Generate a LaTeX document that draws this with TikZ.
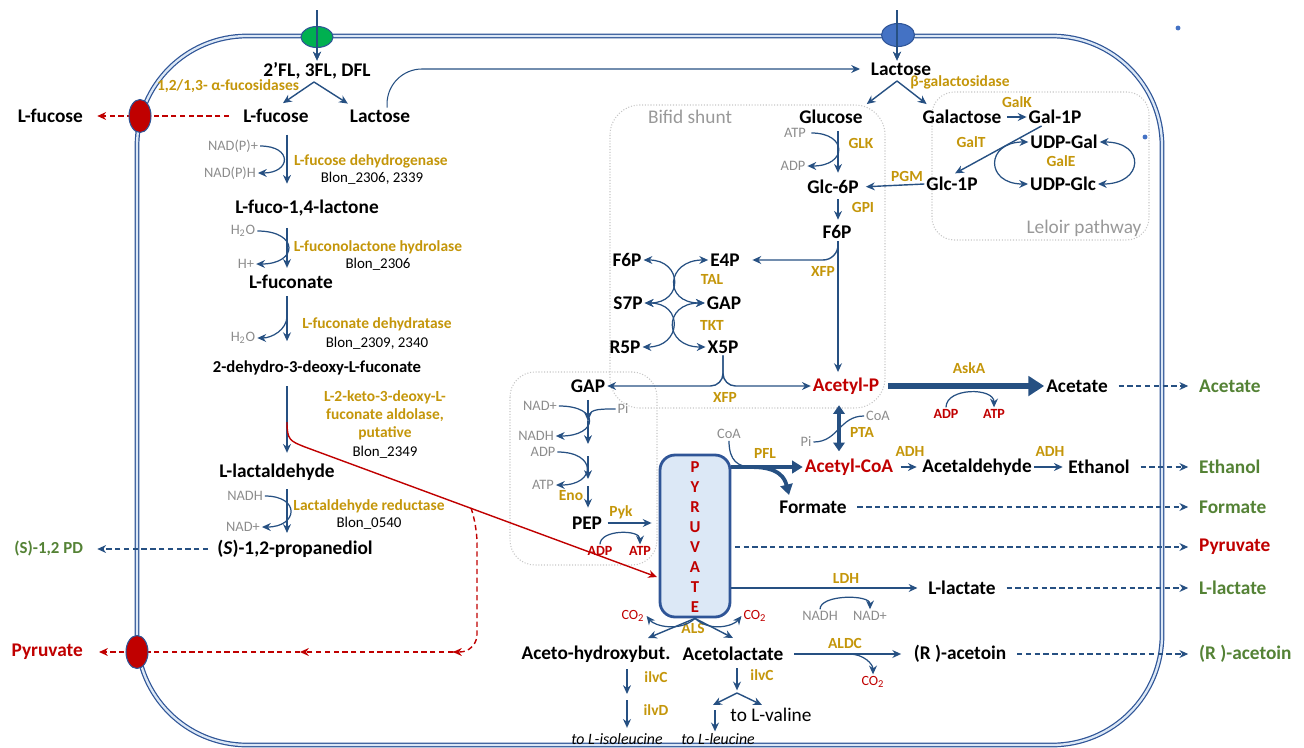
\documentclass[tikz,border=0pt]{standalone}
\usepackage{fontspec}
\setmainfont{Carlito}
\usetikzlibrary{arrows.meta,calc,shapes.geometric}
%
\definecolor{arrblue}{RGB}{38,80,130}
\definecolor{enzgold}{RGB}{196,150,10}
\definecolor{darkred}{RGB}{192,0,0}
\definecolor{exgreen}{RGB}{84,130,53}
\definecolor{cofgray}{RGB}{140,140,140}
\definecolor{membblue}{RGB}{47,85,151}
\definecolor{pyrfill}{RGB}{220,232,246}
\definecolor{portgreen}{RGB}{0,176,80}
\definecolor{portblue}{RGB}{68,114,196}
%
\tikzset{
  met/.style={inner sep=1pt,font=\fontsize{11}{13}\selectfont\bfseries},
  metsmall/.style={inner sep=1pt,font=\fontsize{9.5}{11}\selectfont\bfseries},
  metred/.style={met,text=darkred},
  enz/.style={inner sep=1pt,text=enzgold,align=center,font=\fontsize{8.8}{10.2}\selectfont\bfseries},
  gene/.style={inner sep=1pt,font=\fontsize{8.5}{10}\selectfont},
  cof/.style={inner sep=1pt,text=cofgray,font=\fontsize{8.2}{10}\selectfont},
  cofred/.style={inner sep=1pt,text=darkred,font=\fontsize{8}{10}\selectfont\bfseries},
  cotwo/.style={inner sep=1pt,text=darkred,font=\fontsize{8}{10}\selectfont},
  extlbl/.style={met,text=exgreen,anchor=west},
  boxlbl/.style={inner sep=1pt,text=gray!80,font=\fontsize{11}{13}\selectfont},
  aminoacid/.style={inner sep=1pt,font=\fontsize{9}{10}\selectfont\itshape},
  rxn/.style={draw=arrblue,line width=0.8pt,-{Stealth[length=5pt,width=4.5pt]}},
  cofarc/.style={draw=arrblue,line width=0.7pt},
  cofarcto/.style={cofarc,-{Stealth[length=5pt,width=4.5pt]}},
  export/.style={draw=arrblue,line width=0.7pt,dash pattern=on 3pt off 2pt,
    -{Stealth[length=5pt,width=4.5pt]},shorten <=5pt,shorten >=5pt},
  exportred/.style={draw=darkred,line width=0.8pt,dash pattern=on 3pt off 2pt,
    -{Stealth[length=5pt,width=4.5pt]}},
  pathbox/.style={draw=gray!45,line width=0.6pt,densely dotted,rounded corners=0.6cm},
  membrane/.style={draw=membblue,line width=0.7pt,double=pyrfill,double distance=1.3pt},
  porter/.style={ellipse,draw=membblue,line width=0.6pt,inner sep=0pt},
  pyrbox/.style={draw=membblue,line width=1.6pt,fill=pyrfill,rounded corners=0.3cm,
    minimum width=1.4cm,minimum height=3.24cm},
  pyrletter/.style={inner sep=0pt,text=darkred,font=\fontsize{9.5}{11}\selectfont\bfseries},
  pflarrow/.style={draw=arrblue,line width=2.2pt,-{Triangle[length=6pt,width=7pt]}},
  askarrow/.style={draw=arrblue,line width=3.4pt,-{Triangle[length=9pt,width=11pt]}},
  ptaarrow/.style={draw=arrblue,line width=2.2pt,{Triangle[length=5pt,width=6.5pt]}-{Triangle[length=5pt,width=6.5pt]}},
}
%
\begin{document}
\begin{tikzpicture}[x=0.02cm,y=-0.02cm]
\useasboundingbox (0,0) rectangle (1304,747);
%
% Membrane
\draw[membrane,rounded corners=2.2cm] (137,36) rectangle (1162,745);
%
% Encadres
\draw[pathbox] (610,105) rectangle (885,408);
\draw[pathbox,rounded corners=0.45cm] (932,92) rectangle (1149,240);
\draw[pathbox,rounded corners=0.5cm] (510,372) rectangle (657,565);
\node[boxlbl] (bifid) at (690,117) {Bifid shunt};
\node[boxlbl] (leloir) at (1084,228) {Leloir pathway};
%
% Voie du fucose
\node[met] (fl) at (317,71) {2’FL, 3FL, DFL};
\node[enz] (fucosidase) at (228,86) {1,2/1,3- α-fucosidases};
\node[met] (fucin) at (276,116) {L-fucose};
\node[met] (lacin) at (380,116) {Lactose};
\node[met,anchor=east] (fucout) at (85,116) {L-fucose};
\node[cof] (nadp) at (233,146) {NAD(P)+};
\node[cof] (nadph) at (230,173) {NAD(P)H};
\node[enz] (fucdh) at (371,161) {L-fucose dehydrogenase};
\node[gene] (blona) at (372,178) {Blon\_2306, 2339};
\node[met] (lactone) at (307,208) {L-fuco-1,4-lactone};
\node[cof] (h2oa) at (243,231) {H\textsubscript{2}O};
\node[cof] (hplus) at (246,264) {H+};
\node[enz] (lacthyd) at (378,247) {L-fuconolactone hydrolase};
\node[gene] (blonb) at (378,264) {Blon\_2306};
\node[met] (fuconate) at (291,282) {L-fuconate};
\node[cof] (h2ob) at (243,338) {H\textsubscript{2}O};
\node[enz] (fucdht) at (377,324) {L-fuconate dehydratase};
\node[gene] (blonc) at (377,343) {Blon\_2309, 2340};
\node[metsmall] (kdf) at (317,368) {2-dehydro-3-deoxy-L-fuconate};
\node[enz] (aldolase) at (385,415) {L-2-keto-3-deoxy-L-\\fuconate aldolase,\\putative};
\node[gene] (blond) at (385,452) {Blon\_2349};
\node[met] (lald) at (277,472) {L-lactaldehyde};
\node[cof] (nadhl) at (245,496) {NADH};
\node[cof] (nadl) at (243,527) {NAD+};
\node[enz] (laldred) at (369,506) {Lactaldehyde reductase};
\node[gene] (blone) at (369,523) {Blon\_0540};
\node[met] (pdiol) at (295,549) {(\textit{S})-1,2-propanediol};
\node[met,text=exgreen,anchor=east,font=\fontsize{9.6}{11}\selectfont\bfseries] (pdout) at (85,549) {(S)-1,2 PD};
\node[metred,anchor=east] (pyrleft) at (85,652) {Pyruvate};
%
% Lactose, Leloir
\node[met] (lac) at (901,69) {Lactose};
\node[enz] (bgal) at (960,82) {β-galactosidase};
\node[met] (glc) at (831,117) {Glucose};
\node[met] (gal) at (962,117) {Galactose};
\node[met] (gal1p) at (1055,117) {Gal-1P};
\node[enz] (galk) at (1017,102) {GalK};
\node[enz] (galt) at (971,142) {GalT};
\node[met] (udpgal) at (1064,142) {UDP-Gal};
\node[met] (udpglc) at (1063,184) {UDP-Glc};
\node[enz] (gale) at (1061,161) {GalE};
\node[met] (glc1p) at (952,184) {Glc-1P};
\node[enz] (pgm) at (907,176) {PGM};
%
% Bifid shunt
\node[met] (glc6p) at (833,187) {Glc-6P};
\node[cof] (atpk) at (795,133) {ATP};
\node[cof] (adpk) at (793,166) {ADP};
\node[enz] (glk) at (861,143) {GLK};
\node[enz] (gpi) at (863,207) {GPI};
\node[met] (f6p) at (837,232) {F6P};
\node[enz] (xfpa) at (823,271) {XFP};
\node[met] (f6pb) at (627,260) {F6P};
\node[met] (e4p) at (725,260) {E4P};
\node[enz] (tal) at (712,279) {TAL};
\node[met] (s7p) at (628,303) {S7P};
\node[met] (gapa) at (724,303) {GAP};
\node[enz] (tkt) at (712,325) {TKT};
\node[met] (r5p) at (625,347) {R5P};
\node[met] (x5p) at (723,347) {X5P};
\node[enz] (xfpb) at (725,397) {XFP};
\node[metred] (acp) at (846,386) {Acetyl-P};
%
% Glycolyse basse
\node[met] (gapb) at (588,386) {GAP};
\node[cof] (nadg) at (540,406) {NAD+};
\node[cof] (nadhg) at (536,436) {NADH};
\node[cof] (pig) at (623,409) {Pi};
\node[cof] (adpg) at (543,452) {ADP};
\node[cof] (atpg) at (543,485) {ATP};
\node[enz] (eno) at (571,496) {Eno};
\node[met] (pep) at (587,523) {PEP};
\node[enz] (pyk) at (621,512) {Pyk};
\node[cofred] (adpr) at (600,551) {ADP};
\node[cofred] (atpr) at (640,551) {ATP};
%
% Pyruvate
\node[pyrbox] (pyr) at (695,536) {};
\foreach \l [count=\i] in {P,Y,R,U,V,A,T,E}
  \node[pyrletter] (pyr\i) at (695,447+20*\i) {\l};
%
% Produits
\node[metred] (accoa) at (849,467) {Acetyl-CoA};
\node[met] (formate) at (813,507) {Formate};
\node[cof] (coapfl) at (729,434) {CoA};
\node[enz] (pfl) at (765,453) {PFL};
\node[cof] (pipta) at (806,442) {Pi};
\node[cof] (coapta) at (878,416) {CoA};
\node[enz] (pta) at (862,432) {PTA};
\node[met] (acald) at (977,467) {Acetaldehyde};
\node[enz] (adha) at (910,451) {ADH};
\node[met] (ethanol) at (1099,467) {Ethanol};
\node[enz] (adhb) at (1050,451) {ADH};
\node[met] (acetate) at (1077,386) {Acetate};
\node[enz] (aska) at (969,368) {AskA};
\node[cofred] (adpa) at (946,414) {ADP};
\node[cofred] (atpa) at (994,414) {ATP};
\node[met] (llac) at (962,588) {L-lactate};
\node[enz] (ldh) at (846,578) {LDH};
\node[cof] (nadhd) at (820,616) {NADH};
\node[cof] (nadd) at (870,616) {NAD+};
\node[cotwo] (co2l) at (633,616) {CO\textsubscript{2}};
\node[cotwo] (co2r) at (755,616) {CO\textsubscript{2}};
\node[enz] (als) at (693,628) {ALS};
\node[met] (acehb) at (596,654) {Aceto-hydroxybut.};
\node[met] (acetol) at (733,654) {Acetolactate};
\node[met] (racet) at (960,654) {(R )-acetoin};
\node[enz] (aldc) at (845,643) {ALDC};
\node[cotwo] (co2c) at (873,682) {CO\textsubscript{2}};
\node[enz] (ilvca) at (656,677) {ilvC};
\node[enz] (ilvd) at (656,710) {ilvD};
\node[enz] (ilvcb) at (762,675) {ilvC};
\node[aminoacid] (isoleu) at (617,739) {to L-isoleucine};
\node[aminoacid] (leu) at (718,739) {to L-leucine};
\node[inner sep=1pt,font=\fontsize{11}{13}\selectfont] (valine) at (771,715) {to L-valine};
%
% Sorties
\node[extlbl] (acetateout) at (1197,386) {Acetate};
\node[extlbl] (ethanolout) at (1197,467) {Ethanol};
\node[extlbl] (formateout) at (1197,507) {Formate};
\node[extlbl,text=darkred] (pyrout) at (1197,547) {Pyruvate};
\node[extlbl] (llacout) at (1197,588) {L-lactate};
\node[extlbl] (racetout) at (1197,654) {(R )-acetoin};
%
% Points de repere
\coordinate (fucaxis) at (287,0);
\coordinate (glcaxis) at (838,0);
\coordinate (glyaxis) at (588,0);
\coordinate (ptaaxis) at (839,0);
\coordinate (hmotop) at (317,10);
\coordinate (lactop) at (897,10);
\coordinate (flsplit) at (314,82);
\coordinate (lacsplit) at (897,81);
\coordinate (dehydr) at (287,316);
\coordinate (aldstart) at (287,422);
\coordinate (aldbend) at (305,447);
\coordinate (pyrhit) at (657,577);
\coordinate (pyrexp) at (471,508);
\coordinate (pyrmida) at (453,652);
\coordinate (pyrmidb) at (300,652);
\coordinate (glya) at (588,421);
\coordinate (glyb) at (588,444);
\coordinate (glyc) at (588,456);
\coordinate (glyd) at (588,479);
\coordinate (glye) at (588,486);
\coordinate (pflsplit) at (752,467);
\coordinate (fmin) at (789,495);
\coordinate (alsl) at (648,638);
\coordinate (alsr) at (733,638);
\coordinate (aldcsplit) at (849,654);
\coordinate (isoa) at (627,669);
\coordinate (isob) at (627,694);
\coordinate (isoc) at (627,700);
\coordinate (valsplit) at (737,693);
\coordinate (leuend) at (713,705);
\coordinate (valend) at (762,705);
\coordinate (leustart) at (715,710);
%
% Entrees
\draw[rxn] (hmotop) -- (fl.north);
\draw[rxn] (lactop) -- (lac.north -| lactop);
\draw[rxn] (flsplit) -- ($(fucin.north)+(7,-4)$);
\draw[rxn] (flsplit) -- ($(lacin.north west)+(0,-4)$);
\draw[rxn,line width=0.6pt,rounded corners=0.7cm,shorten >=5pt] ([xshift=4pt]lacin.north) |- (lac.west);
\draw[rxn] (lacsplit) -- ($(glc.north east)+(2,-4)$);
\draw[rxn] (lacsplit) -- ($(gal.north west)+(6,-4)$);
\draw[exportred,shorten <=7pt,shorten >=7pt] (fucin.west) -- (fucout.east);
%
% Fucose -> 1,2-propanediol
\draw[rxn,shorten <=5.5pt,shorten >=8pt] (fucin.south -| fucaxis) -- (lactone.north -| fucaxis);
\draw[cofarcto] (nadp.east) .. controls +(33,0) and +(33,0) .. (nadph.east);
\draw[rxn,shorten <=5.5pt,shorten >=3pt] (lactone.south -| fucaxis) -- (fuconate.north -| fucaxis);
\draw[cofarcto] (h2oa.east) .. controls +(42,0) and +(42,0) .. (hplus.east);
\draw[rxn,shorten <=3pt,shorten >=10pt] (fuconate.south -| fucaxis) -- (kdf.north -| fucaxis);
\draw[cofarcto] (dehydr) .. controls +(0,14) and +(14,0) .. (h2ob.east);
\draw[rxn,shorten <=5pt,shorten >=5pt] (kdf.south -| fucaxis) -- (lald.north -| fucaxis);
\draw[rxn,shorten <=4pt,shorten >=3pt] (lald.south -| fucaxis) -- (pdiol.north -| fucaxis);
\draw[cofarcto] (nadhl.east) .. controls +(36,0) and +(36,0) .. (nadl.east);
\draw[export,shorten <=4pt,shorten >=7pt] (pdiol.west) -- (pdout.east);
%
% Aldolase -> pyruvate
\draw[draw=darkred,line width=0.8pt,-{Stealth[length=5pt,width=4.5pt]}]
  (aldstart) .. controls +(0,18) and +(-15,-6) .. (aldbend) -- (pyrhit);
\draw[exportred,-,rounded corners=0.35cm] (pyrexp) -- (477,525) -- (477,652) -- (pyrmida);
\draw[exportred] ($(pyrmida)+(6,0)$) -- (pyrmida);
\draw[exportred] (pyrmida) -- (pyrmidb);
\draw[exportred,shorten >=8pt] (pyrmidb) -- (pyrleft.east);
%
% Leloir
\draw[rxn,shorten <=2pt] (gal.east) -- (gal1p.west);
\draw[rxn,shorten >=2pt] ($(gal1p.south west)+(15,0)$) -- (glc1p.north);
\draw[cofarc,{Stealth[length=5pt,width=4.5pt]}-{Stealth[length=5pt,width=4.5pt]}]
  (udpglc.west) .. controls +(-43,0) and +(-43,0) .. (udpgal.west);
\draw[cofarc,{Stealth[length=5pt,width=4.5pt]}-{Stealth[length=5pt,width=4.5pt]}]
  (udpgal.east) .. controls +(46,0) and +(46,0) .. (udpglc.east);
\draw[rxn,shorten >=3pt] (glc1p.west) -- (glc6p.east);
%
% Bifid shunt
\draw[rxn,shorten <=3pt,shorten >=3pt] (glc.south -| glcaxis) -- (glc6p.north -| glcaxis);
\draw[cofarcto,shorten <=2pt] (atpk.east) .. controls +(40,0) and +(40,0) .. (adpk.east);
\draw[rxn,shorten <=2pt,shorten >=2pt] (glc6p.south -| glcaxis) -- (f6p.north -| glcaxis);
\draw[rxn,shorten >=2pt] (f6p.south -| glcaxis) -- (acp.north -| glcaxis);
\draw[rxn,rounded corners=0.3cm,shorten >=6pt] ($(f6p.south -| glcaxis)+(0,4)$) |- (e4p.east);
\draw[cofarc,{Stealth[length=5pt,width=4.5pt]}-{Stealth[length=5pt,width=4.5pt]}]
  (f6pb.east) .. controls +(39,0) and +(39,0) .. (s7p.east);
\draw[cofarc,{Stealth[length=5pt,width=4.5pt]}-{Stealth[length=5pt,width=4.5pt]}]
  (e4p.west) .. controls +(-42,0) and +(-42,0) .. (gapa.west);
\draw[cofarc,{Stealth[length=5pt,width=4.5pt]}-{Stealth[length=5pt,width=4.5pt]}]
  (s7p.east) .. controls +(39,0) and +(39,0) .. (r5p.east);
\draw[cofarc,{Stealth[length=5pt,width=4.5pt]}-{Stealth[length=5pt,width=4.5pt]}]
  (gapa.west) .. controls +(-42,0) and +(-42,0) .. (x5p.west);
\draw[rxn,rounded corners=0.25cm] (x5p.south) |- (gapb.east);
\draw[rxn,rounded corners=0.25cm] (x5p.south) |- (acp.west);
%
% Glycolyse
\draw[rxn,shorten <=3pt] (gapb.south) -- (glya);
\draw[rxn] (glya) -- (glyb);
\draw[rxn] (glyc) -- (glyd);
\draw[rxn,shorten >=4pt] (glye) -- (pep.north -| glyaxis);
\draw[cofarcto] (nadg.east) .. controls +(42,0) and +(42,0) .. (nadhg.east);
\draw[cofarc] (pig.west) .. controls +(-20,0) and +(0,-12) .. (glya);
\draw[cofarcto] (adpg.east) .. controls +(40,0) and +(40,0) .. (atpg.east);
\draw[rxn,shorten <=2pt,shorten >=4pt] (pep.east) -- (pyr.west |- pep.east);
\draw[cofarcto] (adpr.north) .. controls +(0,-15) and +(0,-15) .. (atpr.north);
%
% Acetyl-P, acetyl-CoA
\draw[askarrow,shorten <=4pt] (acp.east) -- (acetate.west);
\draw[cofarcto] (adpa.north) .. controls +(0,-20) and +(0,-20) .. (atpa.north);
\draw[ptaarrow,shorten <=5pt,shorten >=3pt] (acp.south -| ptaaxis) -- (accoa.north -| ptaaxis);
\draw[cofarc] (pipta.east) .. controls +(25,0) and +(-25,0) .. (coapta.west);
\draw[pflarrow] (pyr.east |- accoa.west) -- (accoa.west);
\draw[pflarrow] (pflsplit) .. controls +(28,0) and +(-4,-16) .. (fmin);
\draw[cofarc] (coapfl.south) .. controls +(0,20) and +(-14,0) .. (pflsplit);
\draw[rxn,shorten <=3pt,shorten >=2pt] (accoa.east) -- (acald.west);
\draw[rxn,shorten >=2pt] (acald.east) -- (ethanol.west);
%
% Lactate, acetoine
\draw[rxn,shorten >=5pt] (pyr.east |- llac.west) -- (llac.west);
\draw[cofarcto] (nadhd.north) .. controls +(0,-15) and +(0,-15) .. (nadd.north);
\draw[rxn] (pyr.south) -- (alsl);
\draw[rxn] (pyr.south) -- (alsr);
\draw[cofarcto] (pyr.south) .. controls +(-15,14) and +(8,10) .. (co2l.east);
\draw[cofarcto] (pyr.south) .. controls +(15,14) and +(-8,10) .. (co2r.west);
\draw[rxn,shorten <=5pt,shorten >=6pt] (acetol.east) -- (racet.west);
\draw[cofarcto] (aldcsplit) .. controls +(15,0) and +(0,-10) .. (co2c.north);
\draw[rxn] (isoa) -- (isob);
\draw[rxn,shorten >=2pt] (isoc) -- (isoleu.north -| isoc);
\draw[rxn,shorten <=3pt,shorten >=1.5pt] (acetol.south -| valsplit) -- (valsplit);
\draw[rxn] (valsplit) -- (leuend);
\draw[rxn] (valsplit) -- (valend);
\draw[rxn] (leustart) -- (leu.north -| leustart);
%
% Exportations
\foreach \src/\dst in {acetate/acetateout,ethanol/ethanolout,formate/formateout,llac/llacout,racet/racetout}
  \draw[export] (\src.east) -- (\dst.west);
\draw[export,shorten <=2pt] (pyr.east |- pyrout.west) -- (pyrout.west);
%
% Transporteurs
\node[porter,fill=portgreen,minimum width=0.64cm,minimum height=0.42cm] (hmoport) at (317,37) {};
\node[porter,fill=portblue,minimum width=0.66cm,minimum height=0.46cm] (lacport) at (898,35) {};
\node[porter,fill=darkred,minimum width=0.44cm,minimum height=0.66cm] (fucport) at (140,116) {};
\node[porter,fill=darkred,minimum width=0.44cm,minimum height=0.66cm] (pyrport) at (137,652) {};
\draw[rxn] (hmotop) -- (fl.north);
\draw[rxn] (lactop) -- (lac.north -| lactop);
\fill[portblue] (1178,28) circle (1.4pt);
\fill[portblue] (1145,137) circle (1.4pt);
%
\end{tikzpicture}
\end{document}
